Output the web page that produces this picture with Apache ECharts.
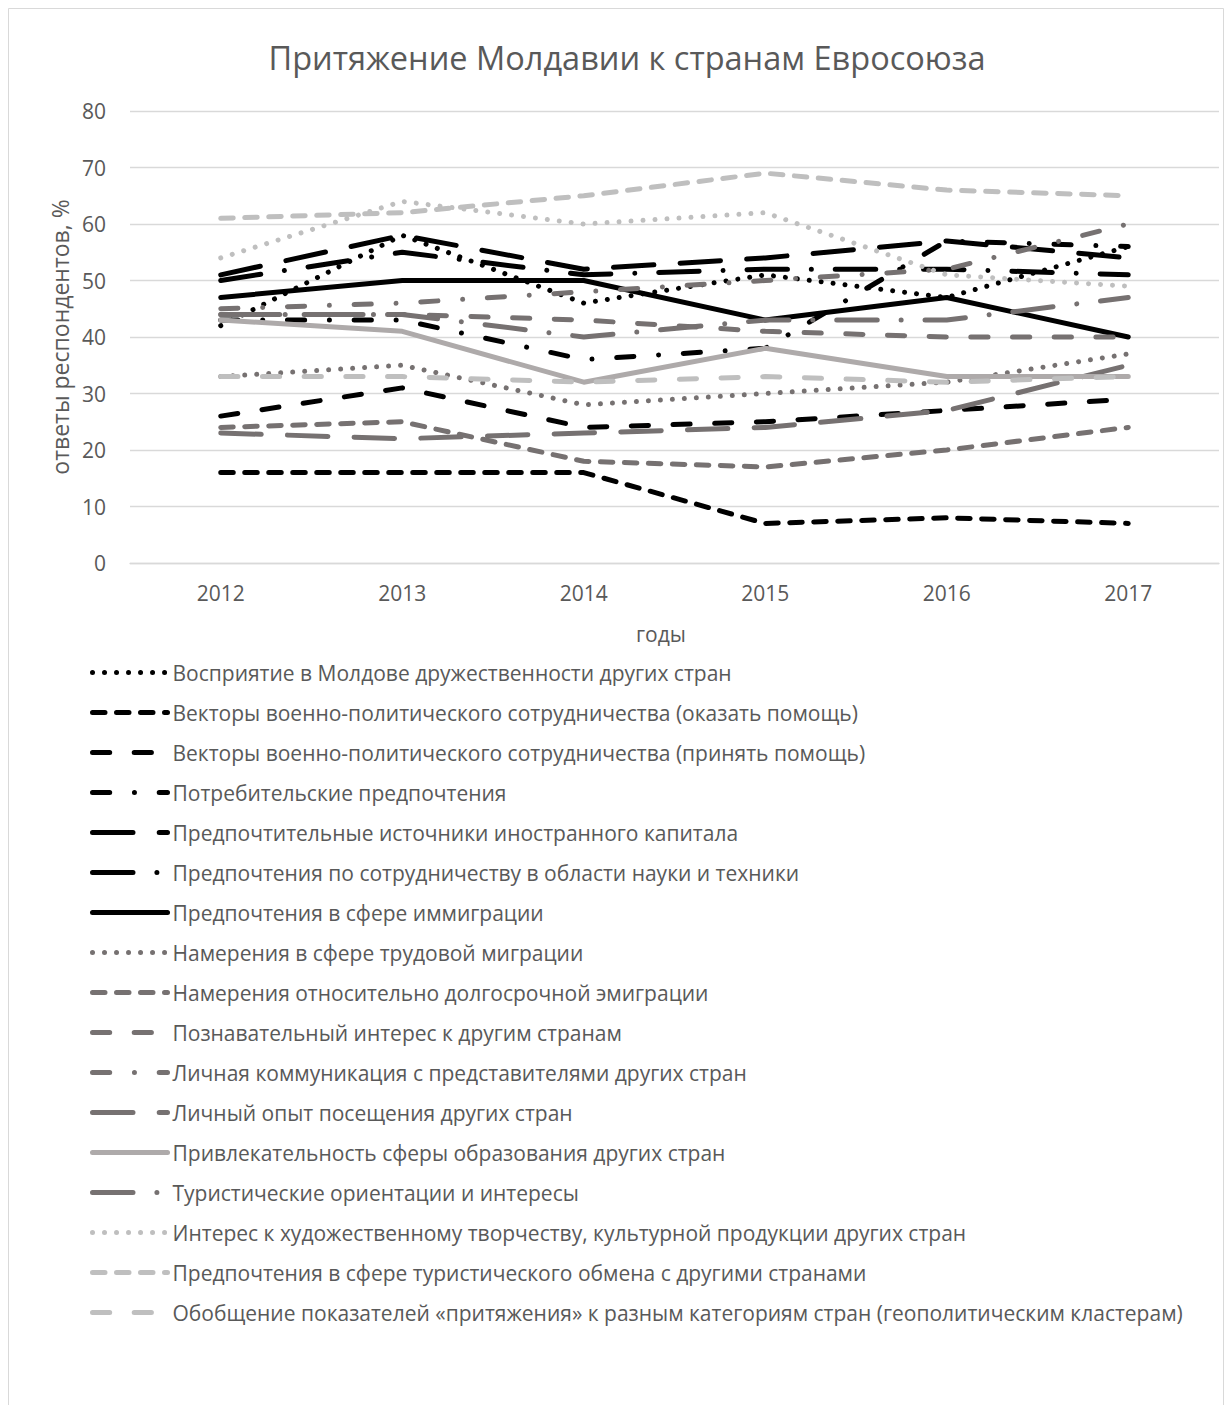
<!DOCTYPE html>
<html><head><meta charset="utf-8">
<script src="https://cdn.jsdelivr.net/npm/echarts@6/dist/echarts.min.js"></script>
<style>html,body{margin:0;padding:0;background:#fff}#c{width:1232px;height:1405px}</style>
</head><body><div id="c"></div>
<script>
// ---------- DATA ----------
const years = ['2012', '2013', '2014', '2015', '2016', '2017'];
const yTicks = [0, 10, 20, 30, 40, 50, 60, 70, 80];

const seriesNames = [
  'Восприятие в Молдове дружественности других стран',
  'Векторы военно-политического сотрудничества (оказать помощь)',
  'Векторы военно-политического сотрудничества (принять помощь)',
  'Потребительские предпочтения',
  'Предпочтительные источники иностранного капитала',
  'Предпочтения по сотрудничеству в области науки и техники',
  'Предпочтения в сфере иммиграции',
  'Намерения в сфере трудовой миграции',
  'Намерения относительно долгосрочной эмиграции',
  'Познавательный интерес к другим странам',
  'Личная коммуникация с представителями других стран',
  'Личный опыт посещения других стран',
  'Привлекательность сферы образования других стран',
  'Туристические ориентации и интересы',
  'Интерес к художественному творчеству, культурной продукции других стран',
  'Предпочтения в сфере туристического обмена с другими странами',
  'Обобщение показателей «притяжения» к разным категориям стран (геополитическим кластерам)'
];

const friendliness      = [42, 58, 46, 51, 47, 56];
const militaryGive      = [16, 16, 16, 7, 8, 7];
const militaryTake      = [26, 31, 24, 25, 27, 29];
const consumer          = [43, 43, 36, 38, 57, 56];
const capital           = [51, 58, 52, 54, 57, 54];
const science           = [50, 55, 51, 52, 52, 51];
const immigration       = [47, 50, 50, 43, 47, 40];
const labourMigration   = [33, 35, 28, 30, 32, 37];
const longEmigration    = [24, 25, 18, 17, 20, 24];
const cognitive         = [44, 44, 43, 41, 40, 40];
const communication     = [45, 46, 48, 50, 52, 60];
const visitExperience   = [23, 22, 23, 24, 27, 35];
const education         = [43, 41, 32, 38, 33, 33];
const tourism           = [44, 44, 40, 43, 43, 47];
const culture           = [54, 64, 60, 62, 51, 49];
const tourExchange      = [61, 62, 65, 69, 66, 65];
const summary           = [33, 33, 32, 33, 32, 33];

const allValues = [friendliness, militaryGive, militaryTake, consumer, capital, science,
  immigration, labourMigration, longEmigration, cognitive, communication, visitExperience,
  education, tourism, culture, tourExchange, summary];

// ---------- STYLES ----------
const BLACK = '#000000', GRAY = '#767171', LSOLID = '#AEAAAA', LGRAY = '#BFBFBF';
const DOT = [0.01, 12];
const SYSDASH = [12.5, 11.5];
const DASH = [17.2, 24.5];
const DASHDOT = [17.2, 24.75, 0.01, 24.75];
const LGDASH = [40.5, 26.2];
const LGDASHDOT = [40.5, 23.9, 0.01, 23.9];
const styles = [
  [BLACK, DOT], [BLACK, SYSDASH], [BLACK, DASH], [BLACK, DASHDOT], [BLACK, LGDASH],
  [BLACK, LGDASHDOT], [BLACK, 'solid'], [GRAY, DOT], [GRAY, SYSDASH], [GRAY, DASH],
  [GRAY, DASHDOT], [GRAY, LGDASH], [LSOLID, 'solid'], [GRAY, LGDASHDOT], [LGRAY, DOT],
  [LGRAY, SYSDASH], [LGRAY, DASH]
];

const FONT = 'Open Sans';
const TXT = '#595959';

const series = seriesNames.map((n, i) => ({
  name: n,
  type: 'line',
  data: allValues[i],
  symbol: 'none',
  smooth: false,
  lineStyle: { color: styles[i][0], width: 5, type: styles[i][1], cap: 'round', join: 'round' },
  itemStyle: { color: styles[i][0] },
  emphasis: { disabled: true }
}));

const chart = echarts.init(document.getElementById('c'), null, { renderer: 'svg' });
chart.setOption({
  animation: false,
  backgroundColor: '#fff',
  title: {
    text: 'Притяжение Молдавии к странам Евросоюза',
    left: 622, top: 36, textAlign: 'center',
    textStyle: { fontFamily: FONT, fontSize: 32.5, fontWeight: 'normal', color: TXT }
  },
  grid: { left: 130, right: 13, top: 111, bottom: 842, containLabel: false },
  xAxis: {
    type: 'category', data: years, boundaryGap: true,
    name: 'годы', nameLocation: 'middle', nameGap: 60,
    nameTextStyle: { fontFamily: FONT, fontSize: 21, color: TXT, padding: [0, 27, 0, 0] },
    axisLine: { show: true, lineStyle: { color: '#d9d9d9', width: 1.3 } },
    axisTick: { show: false },
    axisLabel: { fontFamily: FONT, fontSize: 21, color: TXT, margin: 19 }
  },
  yAxis: {
    type: 'value', min: yTicks[0], max: yTicks[yTicks.length - 1], interval: 10,
    name: 'ответы респондентов, %', nameLocation: 'middle', nameGap: 56, nameRotate: 90,
    nameTextStyle: { fontFamily: FONT, fontSize: 23, color: TXT },
    axisLine: { show: false }, axisTick: { show: false },
    axisLabel: { fontFamily: FONT, fontSize: 21, color: TXT, margin: 24 },
    splitLine: { lineStyle: { color: '#d9d9d9', width: 1.3 } }
  },
  legend: {
    orient: 'vertical', left: 85, top: 657,
    itemWidth: 75, itemHeight: 18, itemGap: 19,
    lineStyle: { width: 5 },
    itemStyle: { color: 'rgba(0,0,0,0)', borderColor: 'rgba(0,0,0,0)', borderWidth: 0 },
    textStyle: { fontFamily: FONT, fontSize: 21, color: TXT, lineHeight: 19 },
    data: seriesNames
  },
  graphic: [{
    type: 'rect', silent: true, z: -1,
    shape: { x: 8.5, y: 8.5, width: 1215, height: 1420 },
    style: { fill: 'none', stroke: '#d9d9d9', lineWidth: 1 }
  }],
  series: series
});
</script></body></html>
